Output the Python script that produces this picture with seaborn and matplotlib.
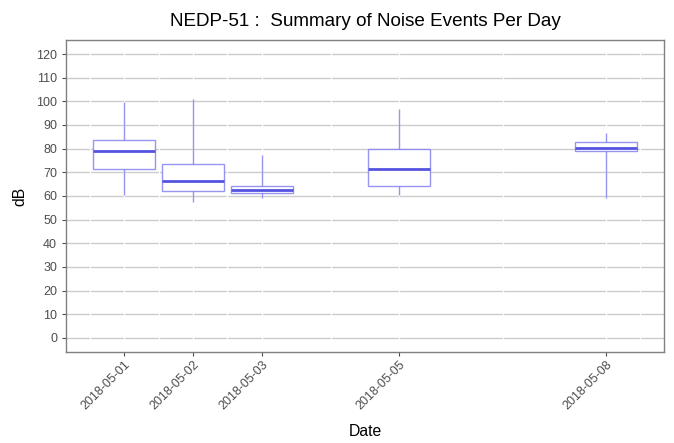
import matplotlib
matplotlib.use("Agg")
import matplotlib.pyplot as plt
import seaborn as sns
import pandas as pd
import numpy as np

dates = ["2018-05-01", "2018-05-02", "2018-05-03", "2018-05-05", "2018-05-08"]
day_num = [1, 2, 3, 5, 8]
low = [60.4, 57.3, 59.0, 60.2, 59.1]
q1 = [71.3, 62.1, 61.1, 64.4, 78.8]
median = [78.9, 66.4, 62.6, 71.6, 80.2]
q3 = [83.6, 73.7, 64.0, 79.8, 82.6]
high = [99.6, 101.1, 77.5, 96.7, 86.5]
y_ticks = list(range(0, 121, 10))

rows = []
for d, a, b, c, e, f in zip(day_num, low, q1, median, q3, high):
    for v in (a, b, c, e, f):
        rows.append({"day": d, "dB": v})
df = pd.DataFrame(rows)

sns.set_theme(style="white")
plt.rcParams["font.family"] = ["Liberation Sans", "DejaVu Sans"]

fig = plt.figure(figsize=(6.74, 4.43), dpi=100)
ax = fig.add_axes([0.098, 0.2054, 0.887, 0.7046])

edge = (0.45, 0.45, 0.93, 0.75)
sns.boxplot(data=df, x="day", y="dB", native_scale=True, width=0.9,
            whis=(0, 100), color="white", linecolor=edge, linewidth=1.0,
            showfliers=False, ax=ax,
            medianprops=dict(color=(0.33, 0.33, 0.88), linewidth=2.0),
            whiskerprops=dict(color=edge, linewidth=1.0),
            capprops=dict(linewidth=0),
            boxprops=dict(edgecolor=edge, facecolor="white", linewidth=1.0))

ax.set_xlim(0.155, 8.845)
ax.set_ylim(-6, 126)
ax.set_yticks(y_ticks)
ax.set_yticklabels([str(t) for t in y_ticks])
ax.set_xticks(day_num)
ax.set_xticklabels(dates, rotation=45, ha="right", rotation_mode="anchor")

ax.set_axisbelow(True)
ax.grid(axis="y", color="#cccccc", linewidth=1.0, zorder=0)
for xv in [0.5, 1, 1.5, 2, 2.5, 3, 4, 5, 6.5, 8, 8.5]:
    ax.axvline(xv, color="white", linewidth=0.9, zorder=0.6)

for s in ax.spines.values():
    s.set_color("#808080")
    s.set_linewidth(1.0)

ax.tick_params(axis="both", which="major", length=3, width=0.8, color="#4d4d4d",
               labelsize=9, labelcolor="#4d4d4d", direction="out",
               left=True, bottom=True)
ax.tick_params(axis="x", pad=2)

ax.set_xlabel("Date", fontsize=11.3, color="black")
ax.set_ylabel("dB", fontsize=11.3, color="black")
ax.xaxis.label.set_va("center")
ax.yaxis.label.set_va("center")
ax.xaxis.set_label_coords(0.5, -0.256)
ax.yaxis.set_label_coords(-0.077, 0.5)
ax.set_title("NEDP-51 :  Summary of Noise Events Per Day", fontsize=13.6,
             pad=10, color="black")

fig.savefig("out.png", dpi=100)
